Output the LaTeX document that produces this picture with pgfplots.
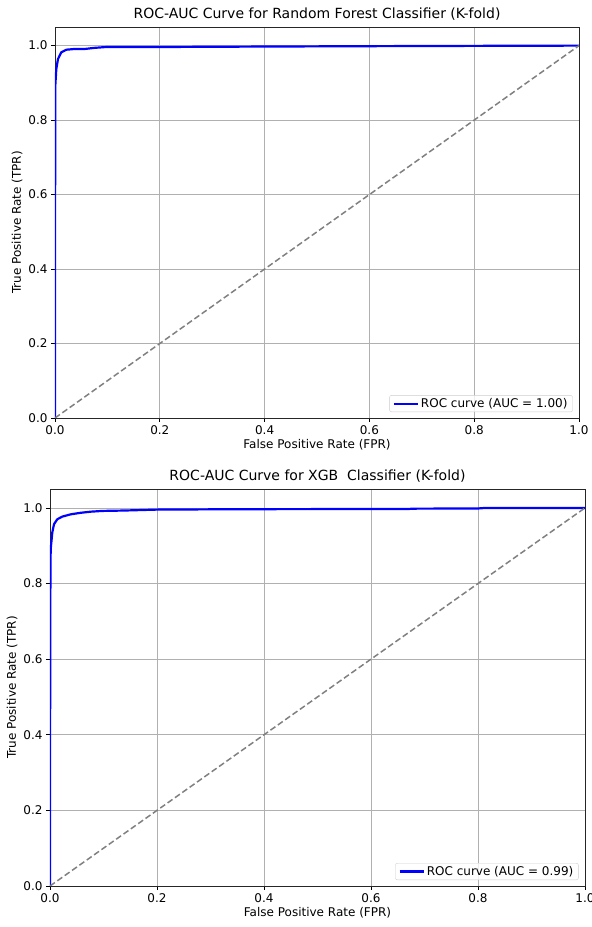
\documentclass[border=0pt]{standalone}
\usepackage{fontspec}
\setmainfont{DejaVu Sans}
\usepackage{pgfplots}
\pgfplotsset{compat=1.18}

\definecolor{mplgrid}{HTML}{B0B0B0}
\definecolor{mpldash}{HTML}{808080}
\definecolor{mplframe}{HTML}{CCCCCC}

\pgfplotsset{
  rocstyle/.style={
    scale only axis,
    anchor=south west,
    xmin=0, xmax=1, ymin=0, ymax=1.05,
    xtick={0,0.2,...,1.0}, ytick={0,0.2,...,1.0},
    /pgf/number format/.cd, fixed, fixed zerofill, precision=1, assume math mode=true, /pgfplots/.cd,
    grid=major, major grid style={mplgrid, line width=0.8pt},
    axis line style={black!85, line width=0.9pt},
    tick align=outside, tickpos=left, major tick length=4pt,
    tick style={black, line width=0.8pt},
    ticklabel style={font=\fontsize{12}{14}\selectfont},
    label style={font=\fontsize{12}{14}\selectfont},
    title style={font=\fontsize{14}{16}\selectfont, yshift=-3pt},
    xlabel={False Positive Rate (FPR)},
    ylabel={True Positive Rate (TPR)},
    xlabel style={yshift=2pt},
    ylabel style={yshift=-1pt},
    legend style={font=\fontsize{12}{14}\selectfont, draw=mplframe, rounded corners=2pt,
      fill=white, fill opacity=0.8, text opacity=1, inner xsep=3pt, inner ysep=1pt,
      at={(0.988,0.015)}, anchor=south east},
    legend cell align=left,
    legend image code/.code={\draw[#1, line width=2.2pt] (0cm,0cm) -- (0.85cm,0cm);},
  }
}

\begin{document}
\begin{tikzpicture}
\useasboundingbox (0pt,0pt) rectangle (592pt,927pt);

% Random Forest
\begin{axis}[rocstyle, at={(55pt,509pt)}, width=524pt, height=391pt,
  title={ROC-AUC Curve for Random Forest Classifier (K-fold)}]
\addplot[blue, line width=2.2pt, line join=round] coordinates {
(0,0) (0.0002,0.55) (0.0006,0.893) (0.0025,0.937) (0.0057,0.964) (0.012,0.982)
(0.0216,0.989) (0.0376,0.991) (0.057,0.991) (0.0758,0.994) (0.095,0.996)
(0.2,0.9963) (0.4,0.9975) (0.6,0.9985) (0.8,0.9993) (1,1)
};
\addlegendentry{ROC curve (AUC = 1.00)}
\addplot[mpldash, line width=1.5pt, dash pattern=on 6pt off 3pt, forget plot] coordinates {(0,0) (1,1)};
\end{axis}

% XGB
\begin{axis}[rocstyle, at={(50pt,41pt)}, width=535pt, height=397pt,
  title={ROC-AUC Curve for XGB\ \ Classifier (K-fold)}]
\addplot[blue, line width=2.2pt, line join=round] coordinates {
(0,0) (0.0003,0.5) (0.0008,0.82) (0.0013,0.891) (0.0043,0.935) (0.0075,0.957)
(0.0137,0.970) (0.023,0.977) (0.0387,0.983) (0.057,0.987) (0.076,0.990)
(0.098,0.992) (0.137,0.993) (0.2,0.9955) (0.3,0.9962) (0.374,0.9966)
(0.67,0.9972) (0.68,0.998) (0.8,0.9985) (0.81,0.9995) (1,1)
};
\addlegendentry{ROC curve (AUC = 0.99)}
\addplot[mpldash, line width=1.5pt, dash pattern=on 6pt off 3pt, forget plot] coordinates {(0,0) (1,1)};
\end{axis}
\end{tikzpicture}
\end{document}
